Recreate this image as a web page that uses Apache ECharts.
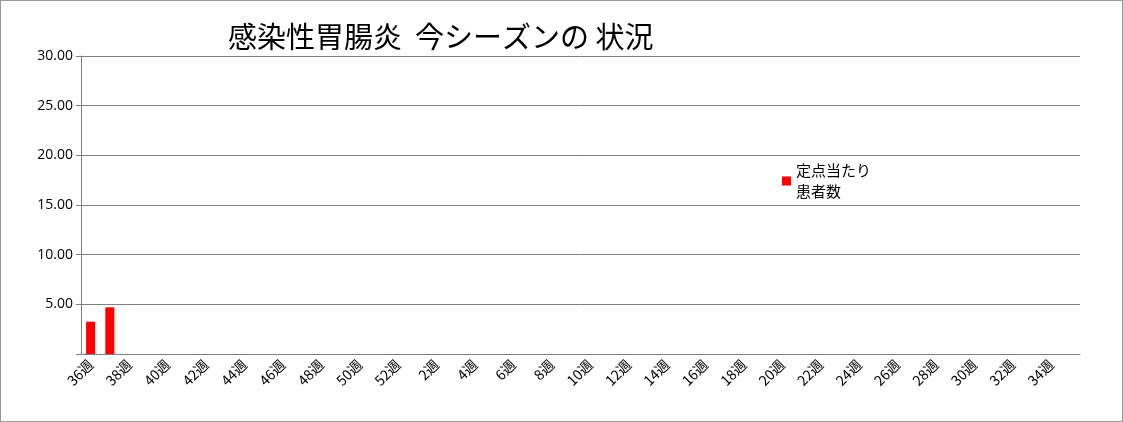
<!DOCTYPE html><html><head><meta charset="utf-8"><script src="https://cdn.jsdelivr.net/npm/echarts@6/dist/echarts.min.js"></script></head><body style="margin:0"><div id="c" style="width:1123px;height:422px;box-sizing:border-box;border:1px solid #999"></div><script>
const weeks=[];for(let i=36;i<=52;i++)weeks.push(i+'週');for(let i=1;i<=35;i++)weeks.push(i+'週');
const values=[3.25,4.7];
const yTicks=[5,10,15,20,25,30];
const ch=echarts.init(document.getElementById('c'));
ch.setOption({animation:false,
title:{text:'感染性胃腸炎  今シーズンの 状況',left:222,top:16,textStyle:{fontFamily:'Noto Sans CJK JP',fontWeight:'normal',fontSize:29,color:'#000'}},
legend:{data:['定点当たり\n患者数'],left:776,top:154,icon:'rect',itemWidth:9,itemHeight:9,itemGap:3,textStyle:{fontFamily:'Noto Sans CJK JP',fontSize:15,color:'#000',lineHeight:21},selectedMode:false},
grid:{left:80,right:42,top:55,bottom:67},
xAxis:{type:'category',data:weeks,axisLine:{lineStyle:{color:'#808080'}},axisTick:{interval:0,length:5,lineStyle:{color:'#808080'}},axisLabel:{interval:1,rotate:45,fontSize:14,color:'#000',fontFamily:'Noto Sans CJK JP',margin:8}},
yAxis:{type:'value',min:0,max:30,interval:5,axisLine:{show:true,lineStyle:{color:'#808080'}},axisTick:{show:true,length:5,lineStyle:{color:'#808080'}},splitLine:{lineStyle:{color:'#808080'}},axisLabel:{color:'#000',fontSize:14,fontFamily:'Open Sans',formatter:v=>yTicks.includes(v)?v.toFixed(2):''}},
series:[{name:'定点当たり\n患者数',type:'bar',data:values,barWidth:'47%',itemStyle:{color:'#ff0000'}}]});
</script></body></html>
